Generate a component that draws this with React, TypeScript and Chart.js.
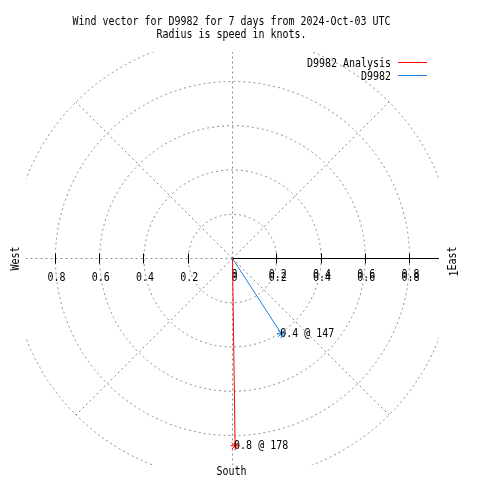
import { useEffect, useRef } from 'react';
import { Chart, registerables } from 'chart.js';

Chart.register(...registerables);

const titleLines = ['Wind vector for D9982 for 7 days from 2024-Oct-03 UTC', 'Radius is speed in knots.'];
const seriesNames = ['D9982 Analysis', 'D9982'];
const seriesColors = ['#ff0000', '#1e80e0'];
const speeds = [0.846, 0.405];
const directions = [179.2, 147];
const pointLabels = ['0.8 @ 178', '0.4 @ 147'];
const ringRadii = [0.2, 0.4, 0.6, 0.8, 1.0];
const tickValues = [0.2, 0.4, 0.6, 0.8];
const tickLabels = ['0.2', '0.4', '0.6', '0.8'];
const spokeAngles = [0, 45, 90, 135, 180, 225, 270, 315];
const axisRange = 0.933;

const FONT = '12px "DejaVu Sans Mono", monospace';
const SX = 6 / 7.22;

function txt(ctx: CanvasRenderingContext2D, s: string, x: number, y: number, align: CanvasTextAlign, rot = 0) {
  ctx.save();
  ctx.translate(x, y);
  if (rot) ctx.rotate(rot);
  ctx.scale(SX, 1);
  ctx.font = FONT;
  ctx.fillStyle = '#000';
  ctx.textAlign = align;
  ctx.textBaseline = 'alphabetic';
  ctx.fillText(s, 0, 0);
  ctx.restore();
}

const rad = (d: number) => (d * Math.PI) / 180;

const polarPlugin = {
  id: 'polarDecor',
  beforeDatasetsDraw(chart: any) {
    const { ctx, chartArea: a, scales } = chart;
    const xs = scales.x;
    const ys = scales.y;
    const cx = xs.getPixelForValue(0);
    const cy = ys.getPixelForValue(0);
    const unit = xs.getPixelForValue(1) - cx;
    ctx.save();
    ctx.beginPath();
    ctx.rect(a.left, a.top, a.right - a.left, a.bottom - a.top);
    ctx.clip();
    ctx.strokeStyle = '#8c8c8c';
    ctx.lineWidth = 1;
    ctx.setLineDash([2, 3]);
    for (const r of ringRadii) {
      ctx.beginPath();
      ctx.arc(cx, cy, r * unit, 0, Math.PI * 2);
      ctx.stroke();
    }
    for (const ang of spokeAngles) {
      const ex = xs.getPixelForValue(Math.sin(rad(ang)));
      const ey = ys.getPixelForValue(Math.cos(rad(ang)));
      ctx.beginPath();
      ctx.moveTo(cx, cy);
      ctx.lineTo(ex, ey);
      ctx.stroke();
    }
    ctx.restore();

    // solid east axis + ticks
    ctx.save();
    ctx.strokeStyle = '#000';
    ctx.lineWidth = 1;
    ctx.setLineDash([]);
    ctx.beginPath();
    ctx.moveTo(cx, cy);
    ctx.lineTo(a.right, cy);
    ctx.stroke();
    for (const t of tickValues) {
      for (const sgn of [-1, 1]) {
        const px = Math.floor(xs.getPixelForValue(sgn * t)) + 0.5;
        ctx.beginPath();
        ctx.moveTo(px, cy - 5);
        ctx.lineTo(px, cy + 5);
        ctx.stroke();
      }
    }
    ctx.restore();
    tickValues.forEach((t, i) => {
      const lx = xs.getPixelForValue(-t);
      txt(ctx, tickLabels[i], lx + 1, cy + 22, 'center');
      const rx = xs.getPixelForValue(t);
      txt(ctx, tickLabels[i], rx + 1, cy + 22, 'center');
      txt(ctx, tickLabels[i], rx + 1, cy + 19, 'center');
    });
    txt(ctx, '0', cx + 2, cy + 22, 'center');
    txt(ctx, '0', cx + 2, cy + 19, 'center');
  },
  afterDatasetsDraw(chart: any) {
    const { ctx, scales } = chart;
    const xs = scales.x;
    const ys = scales.y;
    const cx = xs.getPixelForValue(0);
    const cy = ys.getPixelForValue(0);
    // titles
    txt(ctx, titleLines[0], 231.5, 25, 'center');
    txt(ctx, titleLines[1], 231.5, 37.5, 'center');
    // legend
    seriesNames.forEach((n, i) => {
      const by = 66.5 + i * 13.5;
      txt(ctx, n, 391, by, 'right');
      ctx.save();
      ctx.strokeStyle = seriesColors[i];
      ctx.lineWidth = 1;
      ctx.beginPath();
      const ly = Math.round(62 + i * 13) + 0.5;
      ctx.moveTo(398, ly);
      ctx.lineTo(427, ly);
      ctx.stroke();
      ctx.restore();
    });
    // compass labels
    txt(ctx, 'West', 18.5, cy, 'center', -Math.PI / 2);
    txt(ctx, 'East', 456, cy, 'center', -Math.PI / 2);
    txt(ctx, '1', 458, cy + 15, 'center', -Math.PI / 2);
    txt(ctx, 'South', cx - 1, 475, 'center');
    // point labels
    speeds.forEach((s, i) => {
      const px = xs.getPixelForValue(s * Math.sin(rad(directions[i])));
      const py = ys.getPixelForValue(s * Math.cos(rad(directions[i])));
      txt(ctx, pointLabels[i], px - 1, py + 3.5, 'left');
    });
  },
};

export default function App() {
  const ref = useRef<HTMLCanvasElement>(null);
  useEffect(() => {
    if (!ref.current) return;
    const datasets = seriesNames.map((name, i) => ({
      label: name,
      data: [
        { x: 0, y: 0 },
        { x: speeds[i] * Math.sin(rad(directions[i])), y: speeds[i] * Math.cos(rad(directions[i])) },
      ],
      showLine: true,
      borderColor: seriesColors[i],
      backgroundColor: seriesColors[i],
      borderWidth: 1,
      pointStyle: 'star' as const,
      pointRadius: [0, 4.5],
      pointBorderColor: seriesColors[i],
      pointBorderWidth: 1,
      clip: false as any,
    }));
    const chart = new Chart(ref.current, {
      type: 'scatter',
      data: { datasets },
      options: {
        animation: false,
        responsive: false,
        devicePixelRatio: 1,
        layout: { padding: { left: 26, right: 41, top: 52, bottom: 15 } },
        plugins: {
          legend: { display: false },
          title: { display: false },
          tooltip: { enabled: false },
        },
        scales: {
          x: { type: 'linear', min: -axisRange, max: axisRange, display: false },
          y: { type: 'linear', min: -axisRange, max: axisRange, display: false },
        },
      },
      plugins: [polarPlugin],
    });
    return () => chart.destroy();
  }, []);
  return (
    <div style={{ position: 'absolute', left: 0, top: 0, width: 480, height: 480, background: '#fff' }}>
      <canvas ref={ref} width={480} height={480} style={{ display: 'block', width: 480, height: 480 }} />
    </div>
  );
}
